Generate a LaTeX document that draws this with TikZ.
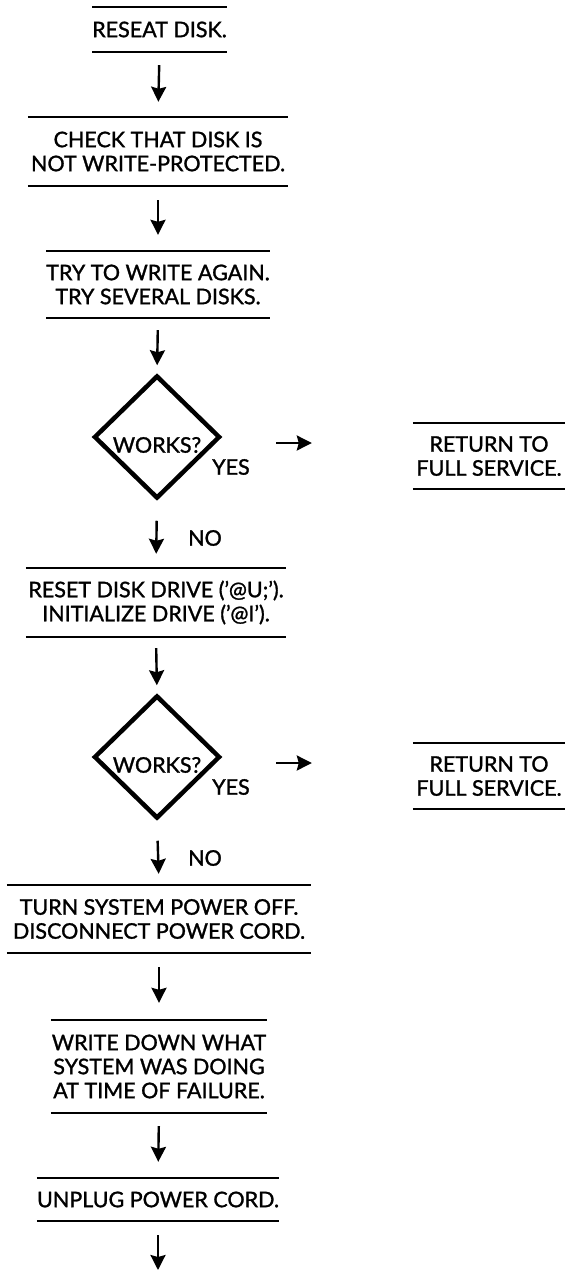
\documentclass[tikz,border=0pt]{standalone}
\usepackage{fontspec}
\setmainfont{Lato}[FakeBold=1.3]
\usetikzlibrary{shapes.geometric,arrows.meta}
\newcommand\fcfont{\fontsize{21.5pt}{24pt}\selectfont}
\begin{document}
\begin{tikzpicture}[x=1pt,y=-1pt,
  rule/.style={line width=2pt},
  rulebox/.style={inner sep=0pt, align=center, font=\fcfont},
  decision/.style={diamond, draw, line width=4.5pt, inner sep=0pt,
    minimum width=126pt, minimum height=123pt},
  lbl/.style={inner sep=0pt, font=\fcfont},
  arr/.style={line width=2.4pt, -{Stealth[length=15pt,width=15pt,inset=2pt]}},
]
\useasboundingbox (0,0) rectangle (565,1271);

\node[rulebox, minimum width=129pt, minimum height=45pt] (reseat) at (159.5,29.5) {RESEAT DISK.};
\node[rulebox, minimum width=260pt, minimum height=69pt] (check) at (158,151.5) {CHECK THAT DISK IS\\NOT WRITE-PROTECTED.};
\node[rulebox, minimum width=218pt, minimum height=67pt] (try) at (158,284.5) {TRY TO WRITE AGAIN.\\TRY SEVERAL DISKS.};
\node[decision, label={[lbl, yshift=-8pt]center:WORKS?}] (dia1) at (157,437) {};
\node[lbl] (yes1) at (231,467) {YES};
\node[rulebox, minimum width=152pt, minimum height=66pt] (ret1) at (489,456) {RETURN TO\\FULL SERVICE.};
\node[lbl] (no1) at (205,538) {NO};
\node[rulebox, minimum width=260pt, minimum height=69pt] (reset) at (156,602.5) {RESET DISK DRIVE ('@U;').\\INITIALIZE DRIVE ('@I').};
\node[decision, label={[lbl, yshift=-8pt]center:WORKS?}] (dia2) at (157,757) {};
\node[lbl] (yes2) at (231,787) {YES};
\node[rulebox, minimum width=152pt, minimum height=66pt] (ret2) at (489,776) {RETURN TO\\FULL SERVICE.};
\node[lbl] (no2) at (205,858) {NO};
\node[rulebox, minimum width=304pt, minimum height=68pt] (turn) at (159,919) {TURN SYSTEM POWER OFF.\\DISCONNECT POWER CORD.};
\node[rulebox, minimum width=216pt, minimum height=93pt] (write) at (159,1066.5) {WRITE DOWN WHAT\\SYSTEM WAS DOING\\AT TIME OF FAILURE.};
\node[rulebox, minimum width=238pt, minimum height=43pt] (unplug) at (158,1199.5) {UNPLUG POWER CORD.};
\coordinate (tail) at (158,1271);

\foreach \n in {reseat,check,try,reset,ret1,ret2,turn,write,unplug}
  \draw[rule] (\n.north west) -- (\n.north east) (\n.south west) -- (\n.south east);

\draw[arr, shorten <=13pt, shorten >=15pt] (reseat.south) -- (check.north);
\draw[arr, shorten <=14pt, shorten >=16pt] (check.south) -- (try.north);
\draw[arr, shorten <=12pt, shorten >=8pt] (try.south) -- (dia1.north);
\draw[arr, shorten <=20pt, shorten >=14pt] (dia1.south) -- (reset.north);
\draw[arr, shorten <=54pt, shorten >=101pt] ([yshift=-6pt]dia1.east) -- ([yshift=-6pt]dia1.east -| ret1.west);
\draw[arr, shorten <=11pt, shorten >=8pt] (reset.south) -- (dia2.north);
\draw[arr, shorten <=20pt, shorten >=11pt] (dia2.south) -- (turn.north);
\draw[arr, shorten <=54pt, shorten >=101pt] ([yshift=-6pt]dia2.east) -- ([yshift=-6pt]dia2.east -| ret2.west);
\draw[arr, shorten <=14pt, shorten >=17pt] (turn.south) -- (write.north);
\draw[arr, shorten <=13pt, shorten >=16pt] (write.south) -- (unplug.north);
\draw[arr, shorten <=14pt, shorten >=1pt] (unplug.south) -- (tail);
\end{tikzpicture}
\end{document}
